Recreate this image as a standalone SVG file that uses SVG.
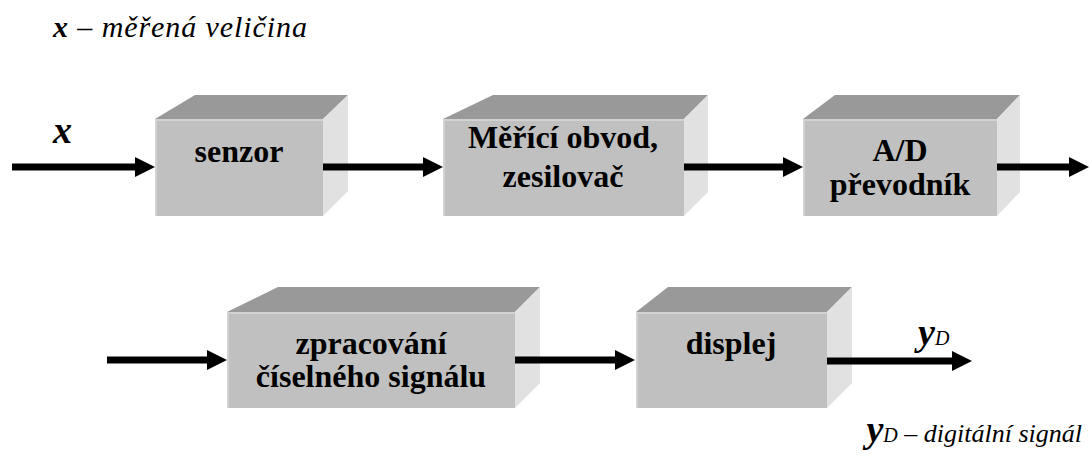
<svg xmlns="http://www.w3.org/2000/svg" width="1090" height="464" viewBox="0 0 1090 464">
<style>
.front{fill:#c0c0c0;}
.edge{stroke:#d2d2d2;stroke-width:2;fill:none;}
.top{fill:#999999;}
.side{fill:#e1e1e1;}
text{font-family:'Liberation Serif','Tinos','Times New Roman','DejaVu Serif',serif;}
.lbl{font-weight:bold;font-size:32px;fill:#000;text-anchor:middle;}
.it{font-style:italic;fill:#000;}
.conn line{stroke:#000;stroke-width:7;}
</style>
<defs>
<marker id="ah" markerUnits="userSpaceOnUse" markerWidth="20" markerHeight="20" viewBox="0 0 20 20" refX="1" refY="10" orient="auto">
<path d="M0,0 L20,10 L0,20 Z" fill="#000"/>
</marker>
</defs>
<rect width="1090" height="464" fill="#fff"/>
<text class="it" x="53" y="37" font-size="30" textLength="254" lengthAdjust="spacing"><tspan font-weight="bold">x</tspan> – měřená veličina</text>
<text class="it" x="53" y="143" font-size="38" font-weight="bold">x</text>
<text class="it" x="918" y="345"><tspan font-size="38" font-weight="bold">y</tspan><tspan font-size="20">D</tspan></text>
<text class="it" x="1082" y="442" font-size="26" text-anchor="end"><tspan font-size="38" font-weight="bold">y</tspan><tspan font-size="20">D</tspan> – digitální signál</text>

<g id="senzor">
<polygon class="top" points="155,119 195,95 348,95 323,119"/>
<polygon class="side" points="323,119 348,95 348,191 323,216"/>
<rect class="front" x="155" y="119" width="168" height="97"/>
<polyline class="edge" points="156,216 156,120 323,120"/>
<text class="lbl" x="239" y="162">senzor</text>
</g>
<g id="obvod">
<polygon class="top" points="443,119 493,95 708,95 684,119"/>
<polygon class="side" points="684,119 708,95 708,192 684,216"/>
<rect class="front" x="443" y="119" width="241" height="97"/>
<polyline class="edge" points="444,216 444,120 684,120"/>
<text class="lbl" x="563" y="148">Měřící obvod,</text>
<text class="lbl" x="563" y="187">zesilovač</text>
</g>
<g id="ad">
<polygon class="top" points="803,119 835,95 1020,95 997,119"/>
<polygon class="side" points="997,119 1020,95 1020,192 997,216"/>
<rect class="front" x="803" y="119" width="194" height="97"/>
<polyline class="edge" points="804,216 804,120 997,120"/>
<text class="lbl" x="900" y="161">A/D</text>
<text class="lbl" x="900" y="195">převodník</text>
</g>
<g id="zpracovani">
<polygon class="top" points="227,312 278,287 540,287 515,312"/>
<polygon class="side" points="515,312 540,287 540,383 515,408"/>
<rect class="front" x="227" y="312" width="288" height="96"/>
<polyline class="edge" points="228,408 228,313 515,313"/>
<text class="lbl" x="371" y="354">zpracování</text>
<text class="lbl" x="371" y="387">číselného signálu</text>
</g>
<g id="displej">
<polygon class="top" points="636,312 668,287 852,287 827,312"/>
<polygon class="side" points="827,312 852,287 852,383 827,408"/>
<rect class="front" x="636" y="312" width="191" height="96"/>
<polyline class="edge" points="637,408 637,313 827,313"/>
<text class="lbl" x="731" y="354">displej</text>
</g>

<g id="connectors" class="conn">
<line x1="12" y1="167" x2="136" y2="167" marker-end="url(#ah)"/>
<line x1="323" y1="167" x2="424" y2="167" marker-end="url(#ah)"/>
<line x1="684" y1="167" x2="784" y2="167" marker-end="url(#ah)"/>
<line x1="997" y1="167" x2="1070" y2="167" marker-end="url(#ah)"/>
<line x1="107" y1="360" x2="208" y2="360" marker-end="url(#ah)"/>
<line x1="515" y1="360" x2="616" y2="360" marker-end="url(#ah)"/>
<line x1="827" y1="361" x2="953" y2="361" marker-end="url(#ah)"/>
</g>
</svg>
